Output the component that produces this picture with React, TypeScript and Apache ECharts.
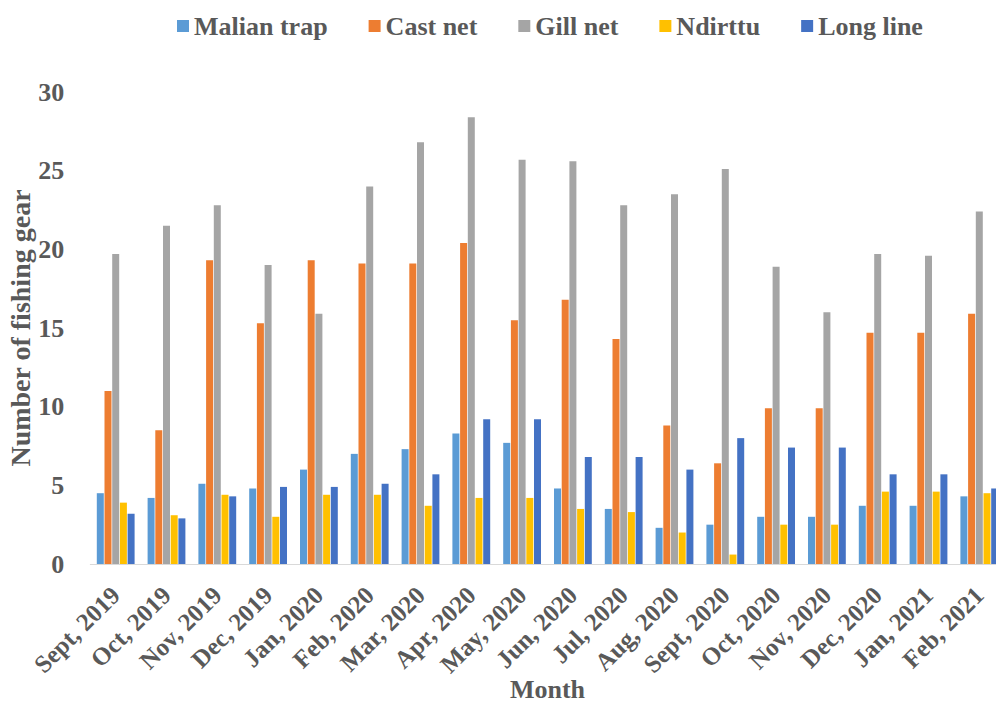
import React, { useEffect, useRef } from "react";
import * as echarts from "echarts";

const months = [
  "Sept, 2019", "Oct, 2019", "Nov, 2019", "Dec, 2019", "Jan, 2020", "Feb, 2020",
  "Mar, 2020", "Apr, 2020", "May, 2020", "Jun, 2020", "Jul, 2020", "Aug, 2020",
  "Sept, 2020", "Oct, 2020", "Nov, 2020", "Dec, 2020", "Jan, 2021", "Feb, 2021",
];

const malianTrap = [4.5, 4.2, 5.1, 4.8, 6.0, 7.0, 7.3, 8.3, 7.7, 4.8, 3.5, 2.3, 2.5, 3.0, 3.0, 3.7, 3.7, 4.3];
const castNet = [11.0, 8.5, 19.3, 15.3, 19.3, 19.1, 19.1, 20.4, 15.5, 16.8, 14.3, 8.8, 6.4, 9.9, 9.9, 14.7, 14.7, 15.9];
const gillNet = [19.7, 21.5, 22.8, 19.0, 15.9, 24.0, 26.8, 28.4, 25.7, 25.6, 22.8, 23.5, 25.1, 18.9, 16.0, 19.7, 19.6, 22.4];
const ndirttu = [3.9, 3.1, 4.4, 3.0, 4.4, 4.4, 3.7, 4.2, 4.2, 3.5, 3.3, 2.0, 0.6, 2.5, 2.5, 4.6, 4.6, 4.5];
const longLine = [3.2, 2.9, 4.3, 4.9, 4.9, 5.1, 5.7, 9.2, 9.2, 6.8, 6.8, 6.0, 8.0, 7.4, 7.4, 5.7, 5.7, 4.8];

const seriesNames = ["Malian trap", "Cast net", "Gill net", "Ndirttu", "Long line"];
const seriesColors = ["#5B9BD5", "#ED7D31", "#A5A5A5", "#FFC000", "#4472C4"];
const yTicks = { min: 0, max: 30, interval: 5 };

const FONT = "'Liberation Serif', 'Times New Roman', serif";
const TEXT = "#595959";

export default function App() {
  const ref = useRef<HTMLDivElement>(null);
  useEffect(() => {
    if (!ref.current) return;
    const chart = echarts.init(ref.current, null, { renderer: "svg" });
    const data = [malianTrap, castNet, gillNet, ndirttu, longLine];
    chart.setOption({
      animation: false,
      backgroundColor: "#ffffff",
      legend: {
        top: 8,
        left: 172,
        itemWidth: 12,
        itemHeight: 12,
        itemGap: 41,
        icon: "rect",
        textStyle: { fontFamily: FONT, fontWeight: "bold", fontSize: 26, color: TEXT },
        data: seriesNames,
      },
      grid: {
        left: 90.3,
        right: -8.7,
        top: 92,
        bottom: 143,
        containLabel: false,
        outerBoundsMode: "none",
      },
      xAxis: {
        type: "category",
        data: months,
        name: "Month",
        nameLocation: "middle",
        nameGap: 112,
        nameMoveOverlap: false,
        nameTextStyle: { fontFamily: FONT, fontWeight: "bold", fontSize: 26, color: TEXT },
        axisLine: { show: true, lineStyle: { color: "#D9D9D9", width: 1 } },
        axisTick: { show: false },
        axisLabel: {
          rotate: 45,
          interval: 0,
          margin: 27,
          fontFamily: FONT,
          fontWeight: "bold",
          fontSize: 25,
          color: TEXT,
        },
      },
      yAxis: {
        type: "value",
        min: yTicks.min,
        max: yTicks.max,
        interval: yTicks.interval,
        name: "Number of fishing gear",
        nameLocation: "middle",
        nameGap: 56,
        nameMoveOverlap: false,
        nameTextStyle: { fontFamily: FONT, fontWeight: "bold", fontSize: 28, color: TEXT },
        axisLine: { show: false },
        axisTick: { show: false },
        splitLine: { show: false },
        axisLabel: { margin: 26, fontFamily: FONT, fontWeight: "bold", fontSize: 26, color: TEXT },
      },
      series: seriesNames.map((name, i) => ({
        name,
        type: "bar",
        data: data[i],
        barWidth: 7,
        barGap: "10%",
        itemStyle: { color: seriesColors[i] },
      })),
    });
    return () => chart.dispose();
  }, []);
  return (
    <div
      ref={ref}
      style={{ position: "fixed", left: 0, top: 0, width: 996, height: 707 }}
    />
  );
}
